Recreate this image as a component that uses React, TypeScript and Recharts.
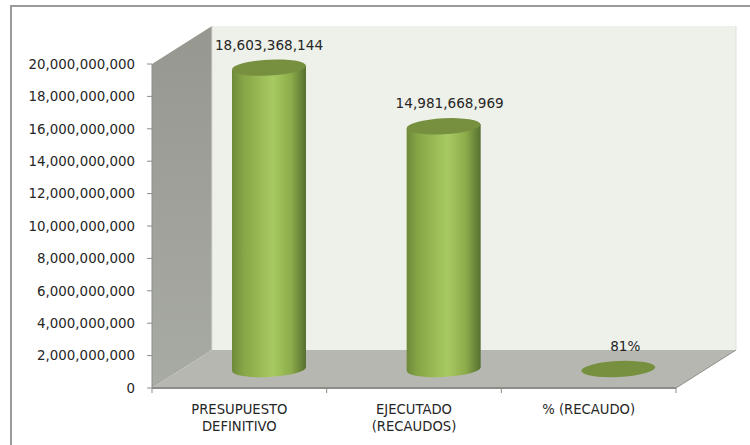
import React from 'react';
import { BarChart, Bar, XAxis, YAxis, Customized } from 'recharts';

const categories = ['PRESUPUESTO DEFINITIVO', 'EJECUTADO (RECAUDOS)', '% (RECAUDO)'];
const amounts = [18603368144, 14981668969, 0.81];
const amountLabels = ['18,603,368,144', '14,981,668,969', '81%'];
const axisTicks = [0, 2e9, 4e9, 6e9, 8e9, 10e9, 12e9, 14e9, 16e9, 18e9, 20e9];

const rows = categories.map((name, i) => ({ name, amount: amounts[i], caption: amountLabels[i] }));

const W = 750;
const H = 445;
const FONT = '"DejaVu Sans", sans-serif';
const TEXT = '#262626';

// Plot rectangle on the front plane and the depth vector of the 3D box.
const L = 152;
const T = 64;
const R = 676;
const B = 388;
const DX = 60;
const DY = -38;
const RY = 8;
const LEAN = 2;

const Box = () => {
  // Category boundaries get a short tick under the front edge of the floor.
  const step = (R - L) / categories.length;
  const edges = [0, 1, 2, 3].map((i) => L + step * i);
  return (
    <g>
      <defs>
        <linearGradient id="sideWall" x1="0" y1="0" x2="0" y2="1">
          <stop offset="0" stopColor="#969890" />
          <stop offset="1" stopColor="#a8aaa4" />
        </linearGradient>
      </defs>
      <polygon points={`${L + DX},${T + DY} ${R + DX},${T + DY} ${R + DX},${B + DY} ${L + DX},${B + DY}`} fill="#eef0ea" />
      <polygon points={`${L},${T} ${L + DX},${T + DY} ${L + DX},${B + DY} ${L},${B}`} fill="url(#sideWall)" />
      <polygon points={`${L},${B} ${L + DX},${B + DY} ${R + DX},${B + DY} ${R},${B}`} fill="#b5b7b0" />
      <line x1={L} y1={B} x2={R} y2={B} stroke="#8c8d88" strokeWidth={2} />
      <line x1={R} y1={B} x2={R + DX} y2={B + DY} stroke="#8f908b" strokeWidth={1} />
      <line x1={L + DX} y1={B + DY} x2={L + DX} y2={T + DY} stroke="#d8d9d4" strokeWidth={1} />
      <line x1={L} y1={T} x2={L} y2={B} stroke="#8c8d88" strokeWidth={1} />
      <line x1={R + DX} y1={T + DY} x2={R + DX} y2={B + DY} stroke="#dfe0db" strokeWidth={1} />
      {edges.map((ex) => (
        <line key={ex} x1={ex} y1={B} x2={ex} y2={B + 5} stroke="#8c8d88" strokeWidth={1} />
      ))}
    </g>
  );
};

const Cylinder = (props: any) => {
  const { x, y, width, height } = props;
  const cx = x + width / 2 + DX / 2;
  const top = y + DY / 2;
  const bottom = top + height;
  const rx = width / 2;
  return (
    <g>
      {height > 1 && (
        <path
          d={`M${cx - rx},${top + LEAN} L${cx - rx},${bottom + LEAN} A${rx},${RY} -3 0 0 ${cx + rx},${bottom - LEAN} L${cx + rx},${top - LEAN} Z`}
          fill="url(#tube)"
        />
      )}
      <ellipse cx={cx} cy={top} rx={rx} ry={RY} fill="#769040" transform={`rotate(-3 ${cx} ${top})`} />
    </g>
  );
};

const AmountLabel = (props: any) => {
  const { x, y, width, index } = props;
  const cx = x + width / 2 + DX / 2;
  const nudgeX = [0, 6, 7];
  return (
    <text
      x={cx + nudgeX[index]}
      y={y + DY / 2 - 18}
      textAnchor="middle"
      fontFamily={FONT}
      fontSize={13.6}
      fill={TEXT}
    >
      {amountLabels[index]}
    </text>
  );
};

const CategoryTick = (props: any) => {
  const { x, y, payload } = props;
  const words = String(payload.value).startsWith('%') ? [payload.value] : String(payload.value).split(' ');
  return (
    <text x={x} y={y} textAnchor="middle" fontFamily={FONT} fontSize={13.2} fill={TEXT}>
      {words.map((w: string, i: number) => (
        <tspan key={w} x={x} dy={i === 0 ? 18 : 17}>
          {w}
        </tspan>
      ))}
    </text>
  );
};

export default function App() {
  return (
    <div style={{ position: 'absolute', left: 0, top: 0, width: W, height: H, background: '#fff', overflow: 'hidden' }}>
      <div style={{ position: 'absolute', left: 10, top: 5, width: 760, height: 460, border: '2px solid #9a9a9a', boxSizing: 'border-box' }} />
      <BarChart
        width={W}
        height={H}
        data={rows}
        margin={{ left: 0, top: T, right: W - R, bottom: 0 }}
        barCategoryGap={0}
        style={{ position: 'absolute', left: 0, top: 0 }}
      >
        <defs>
          <linearGradient id="tube" x1="0" y1="0" x2="1" y2="0">
            <stop offset="0" stopColor="#6e8a3a" />
            <stop offset="0.15" stopColor="#86a546" />
            <stop offset="0.55" stopColor="#a8ca62" />
            <stop offset="0.8" stopColor="#8cab4a" />
            <stop offset="1" stopColor="#567030" />
          </linearGradient>
        </defs>
        <Customized component={Box} />
        <XAxis
          dataKey="name"
          interval={0}
          height={H - B}
          tick={<CategoryTick />}
          axisLine={false}
          tickLine={false}
        />
        <YAxis
          type="number"
          domain={[0, 20e9]}
          ticks={axisTicks}
          width={L}
          tickFormatter={(v: number) => v.toLocaleString('en-US')}
          tick={{ fontFamily: FONT, fontSize: 13.4, fill: TEXT }}
          axisLine={false}
          tickLine={{ stroke: '#8c8d88' }}
          tickSize={5}
          tickMargin={12}
        />
        <Bar
          dataKey="amount"
          barSize={74}
          isAnimationActive={false}
          shape={<Cylinder />}
          label={<AmountLabel />}
        />
      </BarChart>
    </div>
  );
}
